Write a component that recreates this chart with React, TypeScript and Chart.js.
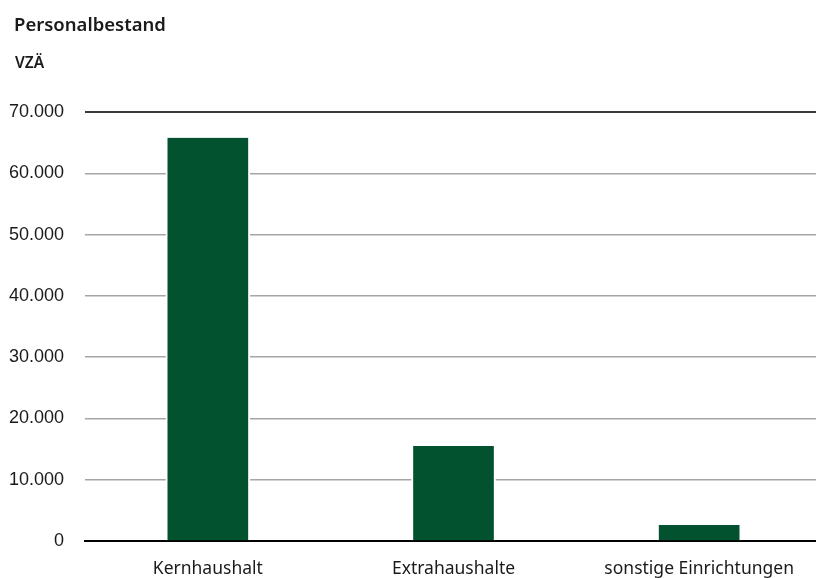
import React, { useEffect, useRef } from "react";
import { Chart, registerables } from "chart.js";

Chart.register(...registerables);

const categories = ["Kernhaushalt", "Extrahaushalte", "sonstige Einrichtungen"];
const values = [65800, 15500, 2600];
const yTicks = [0, 10000, 20000, 30000, 40000, 50000, 60000, 70000];
const title = "Personalbestand";
const unit = "VZÄ";

const fmt = (v: number) => String(v).replace(/\B(?=(\d{3})+(?!\d))/g, ".");

const headerPlugin = {
  id: "header",
  afterDraw(chart: any) {
    const ctx = chart.ctx;
    ctx.save();
    ctx.fillStyle = "#1a1a1a";
    ctx.textBaseline = "alphabetic";
    ctx.textAlign = "left";
    ctx.font = "600 18.5px 'Noto Sans'";
    ctx.fillText(title, 14, 31);
    ctx.font = "600 15.5px 'Noto Sans'";
    ctx.fillText(unit, 15, 68);
    ctx.restore();
  },
};

export default function App() {
  const ref = useRef<HTMLCanvasElement>(null);
  useEffect(() => {
    if (!ref.current) return;
    const chart = new Chart(ref.current, {
      type: "bar",
      data: {
        labels: categories,
        datasets: [
          {
            data: values,
            backgroundColor: "#03522f",
            borderColor: "#ffffff",
            borderWidth: { left: 2, right: 2, top: 0, bottom: 0 },
            borderSkipped: false,
            barThickness: 84,
          },
        ],
      },
      options: {
        animation: false,
        responsive: false,
        maintainAspectRatio: false,
        layout: { padding: { top: 112, right: 8, left: 0, bottom: 0 } },
        plugins: { legend: { display: false }, tooltip: { enabled: false }, title: { display: false } },
        scales: {
          x: {
            z: 1,
            grid: { display: false, drawTicks: false },
            border: { display: true, color: "#000", width: 2 },
            ticks: {
              padding: 18,
              color: "#1a1a1a",
              font: { family: "'Noto Sans'", size: 17.5 },
              maxRotation: 0,
              autoSkip: false,
            },
            afterFit: (s: any) => {
              s.height = 37;
            },
          },
          y: {
            min: 0,
            max: 70000,
            afterBuildTicks: (s: any) => {
              s.ticks = yTicks.map((v) => ({ value: v }));
            },
            grid: {
              drawTicks: false,
              color: (c: any) => (c.tick && c.tick.value === 70000 ? "#3a3a3a" : "#a6a6a6"),
              lineWidth: (c: any) => (c.tick && c.tick.value === 70000 ? 2 : 1.5),
            },
            border: { display: false },
            ticks: {
              padding: 21,
              color: "#1a1a1a",
              font: { family: "'Liberation Sans'", size: 18 },
              callback: (v: any) => fmt(Number(v)),
            },
            afterFit: (s: any) => {
              s.width = 85;
            },
          },
        },
      },
      plugins: [headerPlugin],
    });
    return () => chart.destroy();
  }, []);
  return (
    <div style={{ position: "fixed", left: 0, top: 0, width: 816, height: 578, overflow: "hidden", background: "#fff" }}>
      <canvas ref={ref} width={830} height={578} style={{ width: 830, height: 578 }} />
    </div>
  );
}
